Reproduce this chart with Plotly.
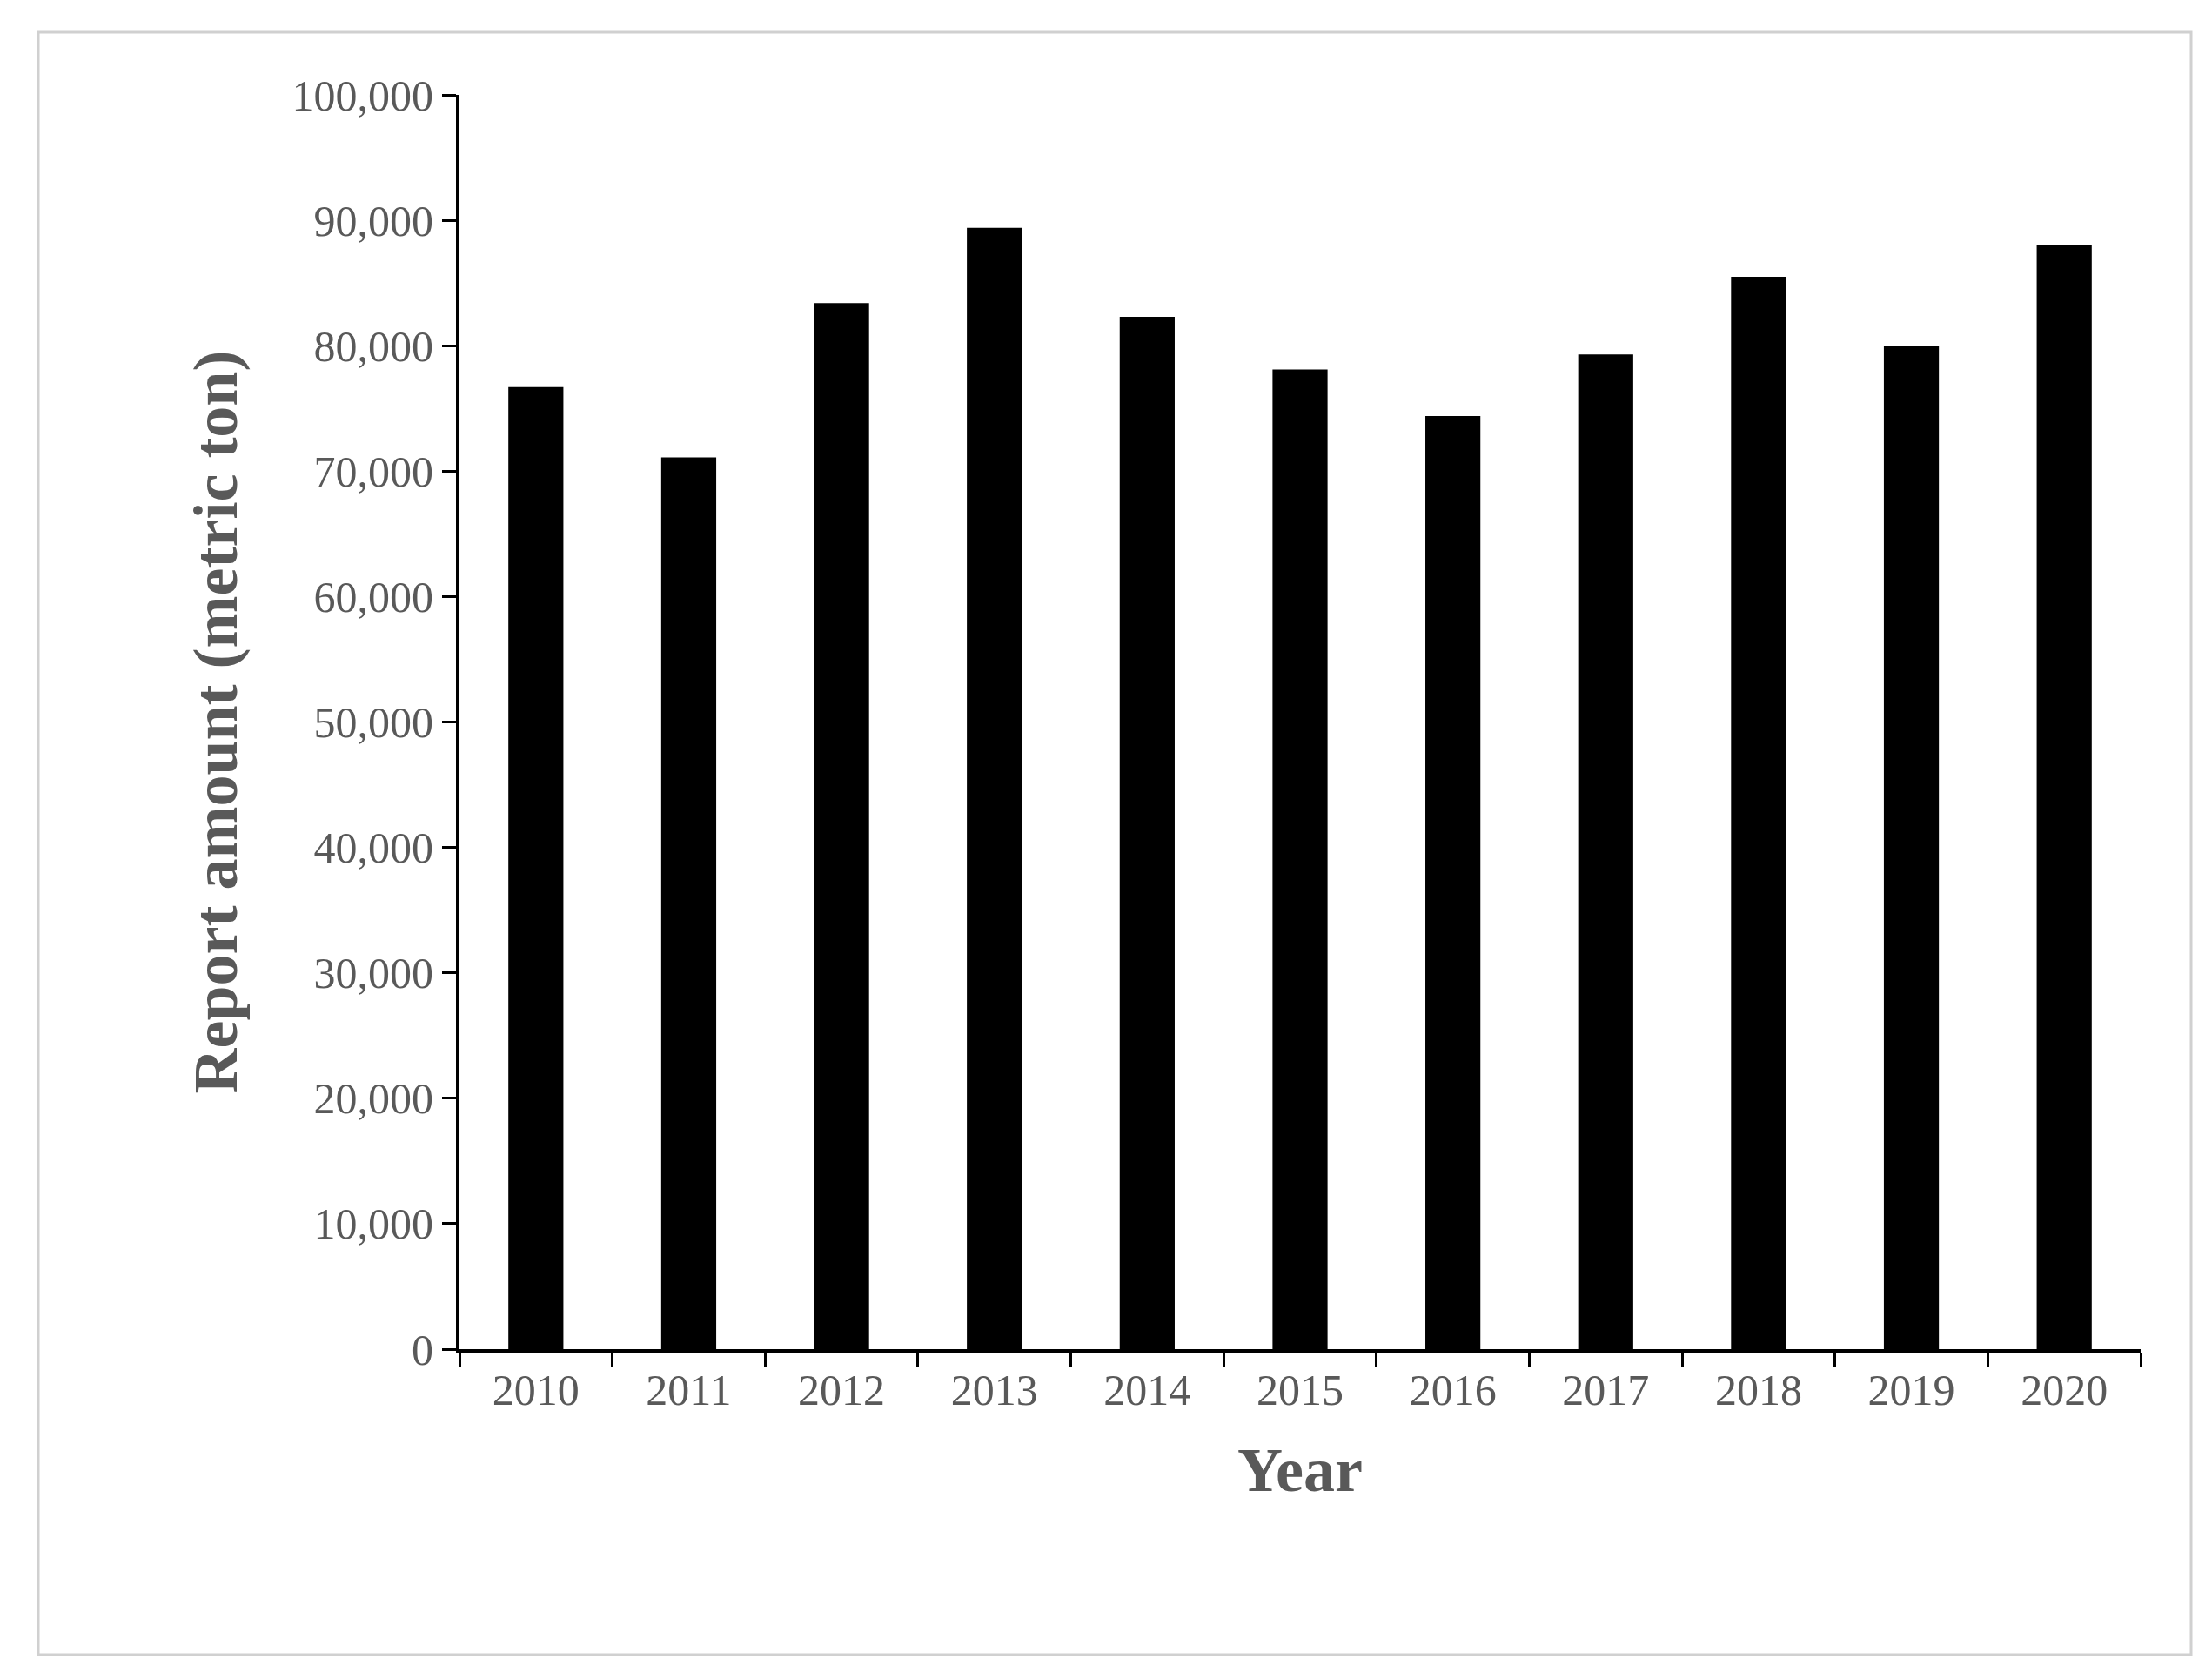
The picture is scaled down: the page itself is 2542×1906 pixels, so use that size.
import plotly.graph_objects as go

years = ["2010","2011","2012","2013","2014","2015","2016","2017","2018","2019","2020"]
amounts = [76700, 71100, 83400, 89400, 82300, 78100, 74400, 79300, 85500, 80000, 88000]

W, H = 2542, 1906
L, R, T, B = 520, 2542-2452, 101, 364
pw, ph = W-L-R, H-T-B

fig = go.Figure(go.Bar(x=years, y=amounts, marker_color="black", marker_line_width=0))
font = "Liberation Serif"
fig.update_layout(
    width=W, height=H, margin=dict(l=L, r=R, t=T, b=B),
    paper_bgcolor="white", plot_bgcolor="white", bargap=0.64, showlegend=False,
    font=dict(family=font, color="#595959", size=50),
)
fig.update_xaxes(type="category", tickson="boundaries", ticks="outside", ticklen=16,
                 tickwidth=3, tickcolor="black", showline=True, linecolor="black", linewidth=4,
                 title=dict(text="<b>Year</b>", font=dict(size=72, color="#595959"), standoff=40),
                 tickfont=dict(size=50))
fig.update_yaxes(range=[0, 100000], dtick=10000, tickformat=",d", ticks="outside", ticklen=16,
                 tickwidth=3, tickcolor="black", showline=True, linecolor="black", linewidth=4,
                 showgrid=False, zeroline=False,
                 title=dict(text="<b>Report amount (metric ton)</b>", font=dict(size=72, color="#595959"), standoff=40),
                 tickfont=dict(size=50))
fig.add_shape(type="rect", xref="paper", yref="paper",
              x0=(36-L)/pw, x1=(2510-L)/pw, y0=(H-B-1893)/ph, y1=(H-B-29)/ph,
              line=dict(color="#d0d0d0", width=3))
fig.write_html("out.html")
